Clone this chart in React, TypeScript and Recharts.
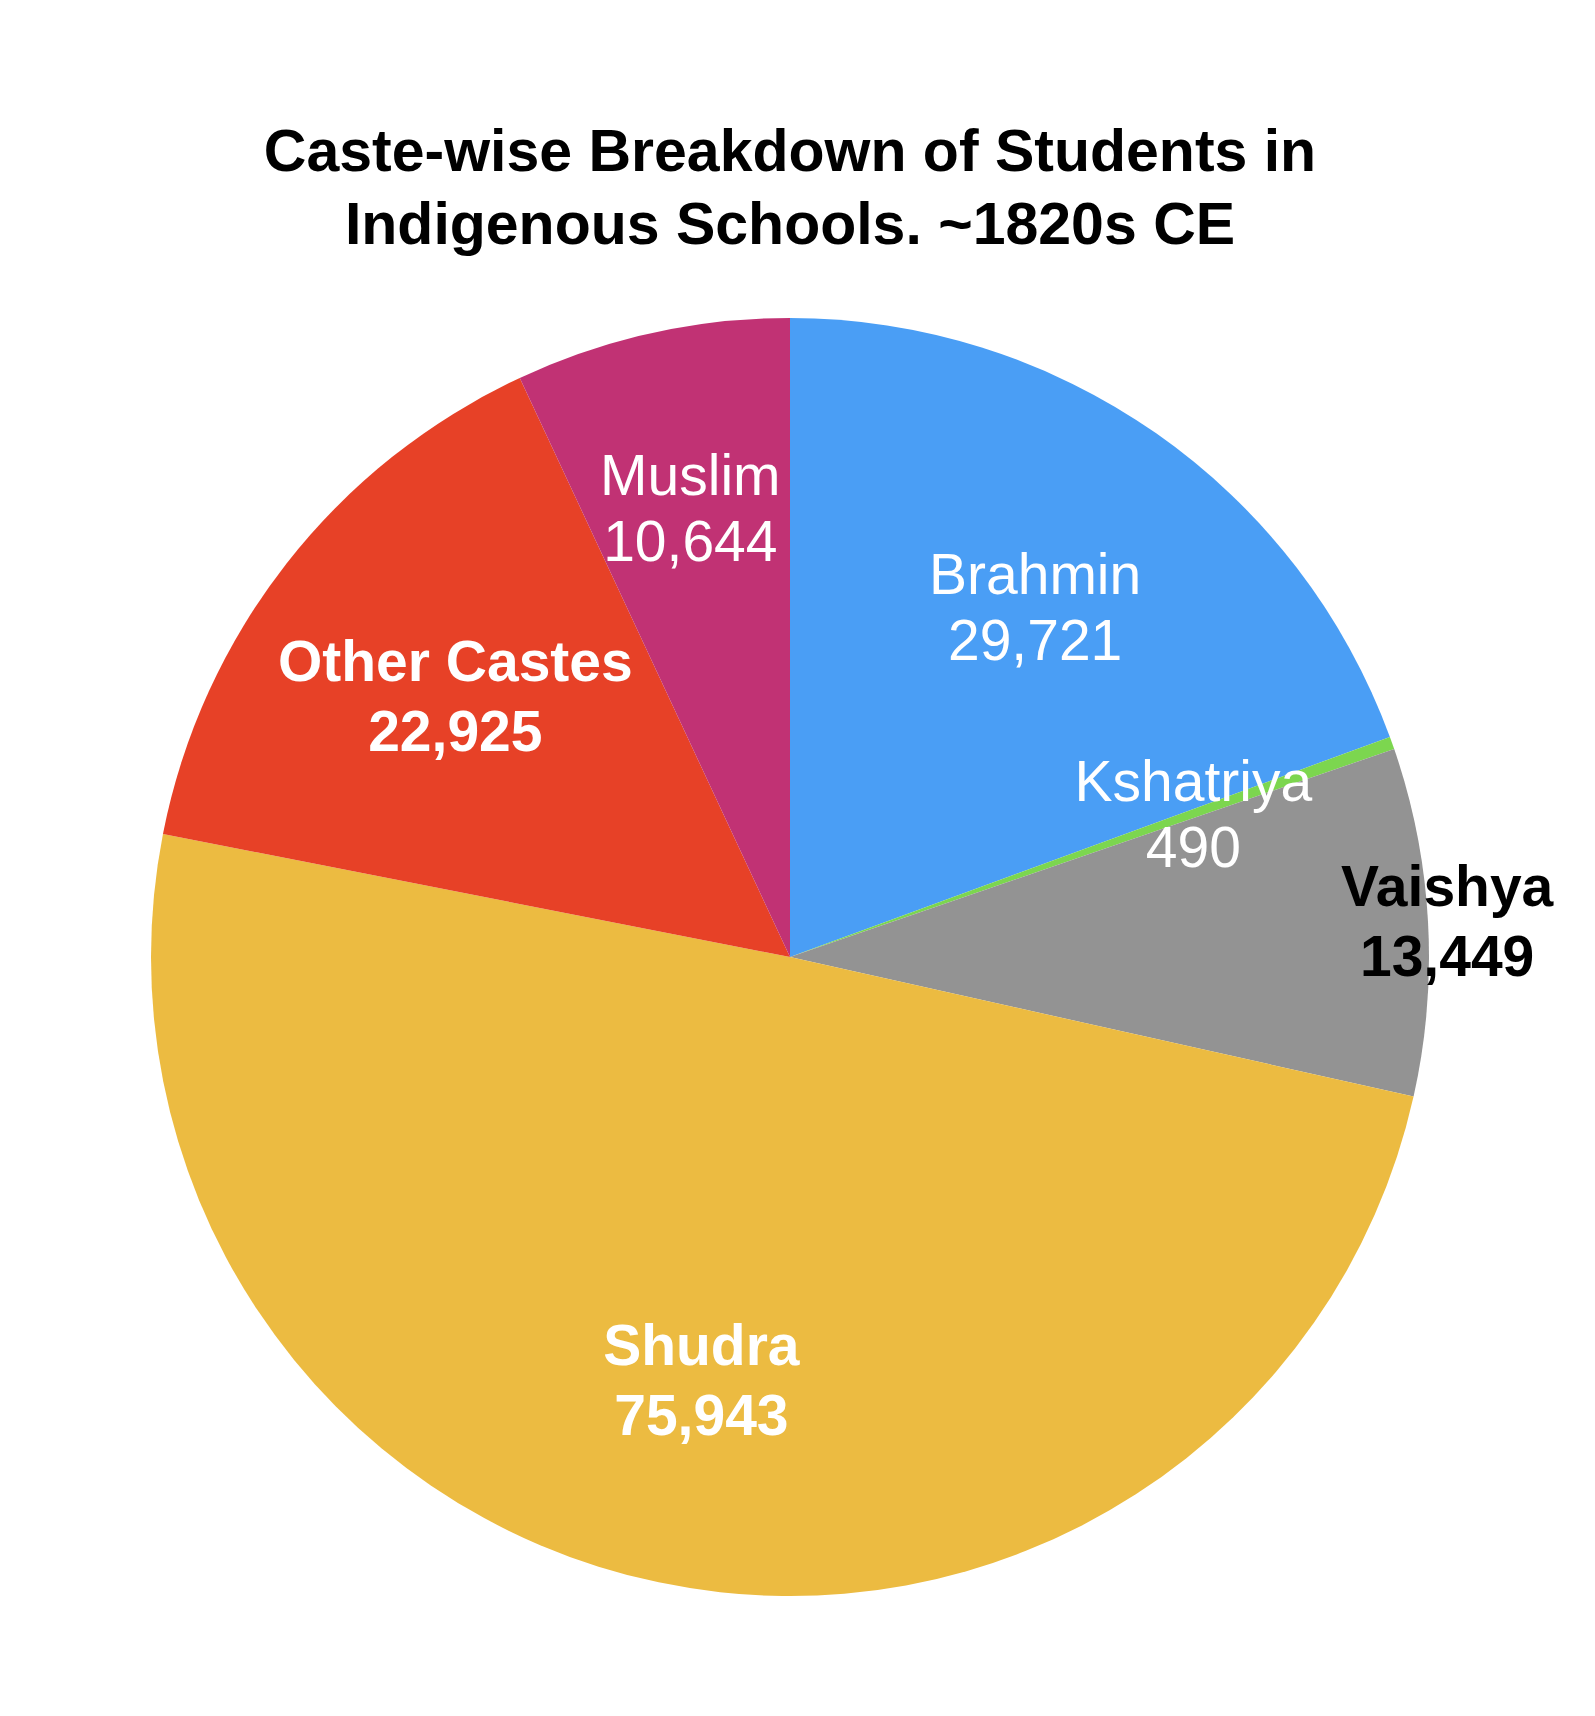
import { PieChart, Pie, Cell } from "recharts";

const castes = ["Brahmin", "Kshatriya", "Vaishya", "Shudra", "Other Castes", "Muslim"];
const students = [29721, 490, 13449, 75943, 22925, 10644];
const sliceColors = ["#4A9EF5", "#7CD64F", "#939393", "#ECBB41", "#E74127", "#C13274"];

// label look per slice (Keynote style: some bold, one sits on the edge in black)
const labelStyle: Record<string, { bold: boolean; fill: string; r: number }> = {
  Brahmin: { bold: false, fill: "#fff", r: 0.67 },
  Kshatriya: { bold: false, fill: "#fff", r: 0.67 },
  Vaishya: { bold: true, fill: "#000", r: 1.03 },
  Shudra: { bold: true, fill: "#fff", r: 0.675 },
  "Other Castes": { bold: true, fill: "#fff", r: 0.665 },
  Muslim: { bold: false, fill: "#fff", r: 0.72 },
};

const data = castes.map((name, i) => ({ name, value: students[i] }));

const FONT = '"Liberation Sans", Arial, Helvetica, sans-serif';
const RAD = Math.PI / 180;

function SliceLabel(props: any) {
  const { cx, cy, midAngle, outerRadius, name, value } = props;
  const st = labelStyle[name];
  const r = outerRadius * st.r;
  const x = cx + r * Math.cos(-midAngle * RAD);
  const y = cy + r * Math.sin(-midAngle * RAD);
  const fs = 57;
  const gap = st.bold ? 35 : 33;
  return (
    <g>
      <text
        x={x}
        y={y - gap + fs * 0.36}
        textAnchor="middle"
        fill={st.fill}
        fontFamily={FONT}
        fontSize={fs}
        fontWeight={st.bold ? 700 : 400}
      >
        {name}
      </text>
      <text
        x={x}
        y={y + gap + fs * 0.36}
        textAnchor="middle"
        fill={st.fill}
        fontFamily={FONT}
        fontSize={fs}
        fontWeight={st.bold ? 700 : 400}
      >
        {value.toLocaleString("en-US")}
      </text>
    </g>
  );
}

export default function App() {
  return (
    <div style={{ position: "relative", width: 1579, height: 1700, background: "#fff" }}>
      {/* title */}
      <div
        style={{
          position: "absolute",
          top: 107,
          left: 0,
          width: 1564,
          textAlign: "center",
          fontFamily: FONT,
          fontWeight: 700,
          fontSize: 59,
          lineHeight: "73px",
          color: "#000",
        }}
      >
        Caste-wise Breakdown of Students in
        <br />
        Indigenous Schools. ~1820s CE
      </div>
      <PieChart width={1579} height={1700}>
        <Pie
          data={data}
          dataKey="value"
          nameKey="name"
          cx={777}
          cy={944}
          outerRadius={639}
          startAngle={90}
          endAngle={-270}
          stroke="none"
          labelLine={false}
          label={SliceLabel}
          isAnimationActive={false}
        >
          {data.map((d, i) => (
            <Cell key={d.name} fill={sliceColors[i]} />
          ))}
        </Pie>
      </PieChart>
    </div>
  );
}
